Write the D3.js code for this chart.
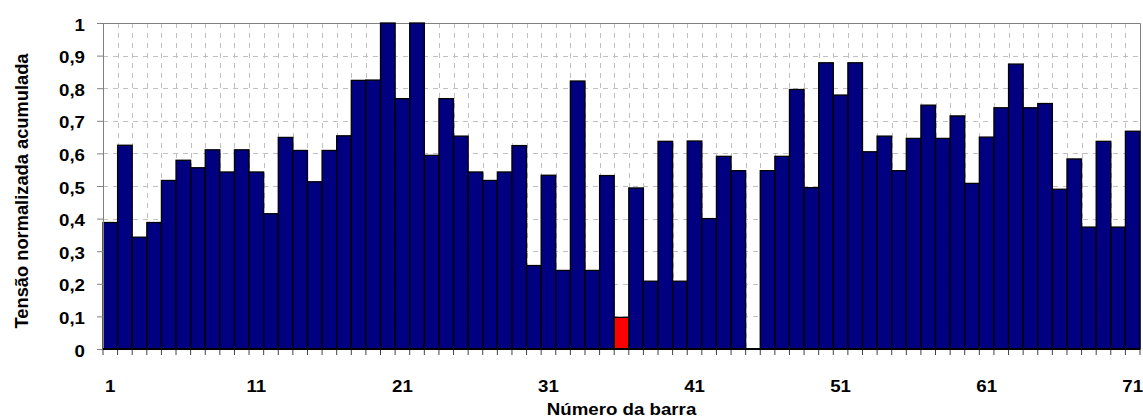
<!DOCTYPE html>
<html><head><meta charset="utf-8">
<script src="https://cdn.jsdelivr.net/npm/d3@7"></script>
<style>body{margin:0;background:#fff;}svg{display:block;font-family:"Liberation Sans",Arial,sans-serif;}</style>
</head><body>
<svg id="c" width="1143" height="419"></svg>
<script>
const categories = d3.range(1, 72);
const values = [0.388,0.625,0.343,0.388,0.517,0.579,0.556,0.611,0.543,0.611,
0.543,0.415,0.649,0.609,0.513,0.609,0.654,0.824,0.825,1.0,
0.768,1.0,0.594,0.768,0.653,0.543,0.517,0.543,0.624,0.256,
0.533,0.241,0.822,0.241,0.532,0.097,0.494,0.208,0.637,0.208,
0.638,0.400,0.591,0.547,0,0.547,0.591,0.796,0.495,0.878,
0.779,0.878,0.605,0.653,0.547,0.646,0.748,0.646,0.715,0.508,
0.650,0.740,0.874,0.740,0.753,0.490,0.583,0.374,0.637,0.374,0.668];
const highlighted = [36];
const xTickLabels = [1,11,21,31,41,51,61,71];
const yTicks = d3.range(0, 11).map(d => d/10);

const svg = d3.select('#c');
const L = 103, R = 1140, T = 23, B = 349;
const FS = 17, SX = 1.1;
const x = d3.scaleBand().domain(categories).range([L, R]).padding(0);
const y = d3.scaleLinear().domain([0, 1]).range([B, T]);
const fmt = d => d === 0 ? '0' : d === 1 ? '1' : d3.format('.1f')(d).replace('.', ',');

// gridlines
const g = svg.append('g');
g.selectAll('.vg').data(categories.slice(1)).join('line')
  .attr('x1', d => Math.round(x(d)) + 0.5).attr('x2', d => Math.round(x(d)) + 0.5)
  .attr('y1', T).attr('y2', B)
  .attr('stroke', '#c0c0c0').attr('stroke-dasharray', '5,5');
g.selectAll('.hg').data(yTicks.slice(1, 10)).join('line')
  .attr('x1', L).attr('x2', R)
  .attr('y1', d => Math.round(y(d)) + 0.5).attr('y2', d => Math.round(y(d)) + 0.5)
  .attr('stroke', '#c0c0c0').attr('stroke-dasharray', '5,5');

// frame
svg.append('path').attr('d', `M${L},${T+0.5}H${R+0.5}V${B}`).attr('fill', 'none').attr('stroke', '#808080');

// bars
svg.append('g').selectAll('rect').data(categories).join('rect')
  .attr('x', d => x(d)).attr('width', x.bandwidth())
  .attr('y', (d, i) => y(values[i])).attr('height', (d, i) => y(0) - y(values[i]))
  .attr('fill', d => highlighted.includes(d) ? '#ff0000' : '#000080')
  .attr('stroke', (d, i) => values[i] > 0 ? '#000' : 'none').attr('stroke-width', 1.3);

// y axis
const ya = svg.append('g').attr('transform', `translate(${L},0)`)
  .call(d3.axisLeft(y).tickValues(yTicks).tickFormat('').tickSize(6));
ya.select('.domain').attr('stroke', '#808080');
ya.selectAll('.tick line').attr('stroke', '#808080');
svg.append('g').selectAll('text').data(yTicks).join('text')
  .attr('transform', d => `translate(85,${y(d) + 0.45 * FS}) scale(${SX},1)`)
  .attr('text-anchor', 'end').attr('font-size', FS).attr('font-weight', 'bold').text(fmt);

// x axis ticks at boundaries
svg.append('g').selectAll('line').data(categories.concat([72])).join('line')
  .attr('x1', d => (d === 72 ? R : x(d))).attr('x2', d => (d === 72 ? R : x(d)))
  .attr('y1', B).attr('y2', B + 6).attr('stroke', '#404040');
svg.append('line').attr('x1', L).attr('x2', R).attr('y1', B).attr('y2', B).attr('stroke', '#000').attr('stroke-width', 2);

svg.append('g').selectAll('text').data(xTickLabels).join('text')
  .attr('transform', d => `translate(${x(d) + x.bandwidth() / 2},392) scale(${SX},1)`)
  .attr('text-anchor', 'middle').attr('font-size', FS).attr('font-weight', 'bold').text(d => d);

svg.append('text').attr('transform', `translate(${(L + R) / 2},415) scale(${SX},1)`).attr('text-anchor', 'middle')
  .attr('font-size', FS).attr('font-weight', 'bold').text('Número da barra');
svg.append('text').attr('transform', `translate(28,191) rotate(-90)`).attr('text-anchor', 'middle')
  .attr('font-size', 18.3).attr('font-weight', 'bold').text('Tensão normalizada acumulada');
</script>
</body></html>
